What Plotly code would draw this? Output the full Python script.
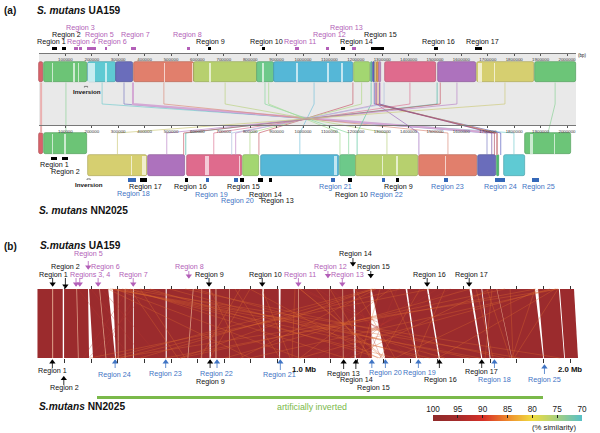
import plotly.graph_objects as go

# ---------- panel (a): genome blocks, all positions in kb ----------
top_start = [0, 19, 186, 292, 360, 587, 826, 890, 1193, 1258, 1266, 1273, 1281, 1289, 1311, 1511, 1659, 1879]
top_end = [15, 182, 292, 356, 587, 826, 890, 1189, 1254, 1262, 1272, 1280, 1287, 1295, 1504, 1655, 1875, 2034]
top_color = ["#d9626a", "#6cc476", "#5fcad3", "#6a6dbb", "#e17f6c", "#b7d06e", "#6dc98a", "#55b7d7", "#a3d671",
             "#5fc8a0", "#5a62c0", "#d6c98a", "#e39a50", "#c48ac8", "#df6b8d", "#ad72bd", "#d6cf70", "#6cc578"]
up_start = [0, 19, 1841]
up_end = [15, 182, 2015]
up_color = ["#d9626a", "#6cc476", "#6cc578"]
low_start = [186, 413, 561, 773, 841, 1140, 1201, 1439, 1663, 1735, 1761]
low_end = [409, 553, 769, 833, 1136, 1201, 1436, 1659, 1731, 1741, 1841]
low_color = ["#d6cf70", "#ad72bd", "#df6b8d", "#a3d671", "#55b7d7", "#6dc98a", "#b7d06e", "#e17f6c", "#6a6dbb", "#4fbf70", "#5fcad3"]

top_stripe_start = [50, 130, 146, 186, 250, 475, 525, 580, 644, 843, 973, 1092, 1144, 1404, 1662, 1725]
top_stripe_end = [53, 138, 150, 212, 258, 479, 528, 584, 652, 851, 980, 1098, 1150, 1407, 1678, 1727]
up_stripe_start = [51, 94, 1860, 1951]
up_stripe_end = [54, 101, 1871, 1956]
low_stripe_start = [349, 390, 629, 759, 1117, 1180, 1300, 1353, 1538]
low_stripe_end = [352, 405, 644, 762, 1129, 1183, 1304, 1360, 1542]

link_top = [8, 102, 239, 322, 356, 473, 705, 856, 870, 1042, 1189, 1222, 1258, 1270, 1278, 1284, 1292, 1307, 1405, 1508, 1520, 1583, 1765, 1955, 1290, 1276]
link_bot = [8, 102, 1799, 1697, 1735, 1549, 1318, 1173, 1140, 988, 833, 799, 1205, 1749, 1439, 1735, 745, 730, 662, 556, 548, 484, 297, 1928, 1715, 1725]
link_color = ["#eab0b0", "#8ed39a", "#78cdd0", "#7f7fc4", "#d4a8d4", "#dd8f80", "#bcd384", "#8ad8a0", "#a8dc90", "#7cc4dc", "#c8606e", "#b2d88a",
              "#5fc8a0", "#5a62c0", "#a070c0", "#e39a50", "#c48ac8", "#b0c0e0", "#dc7a98", "#4fb8a8", "#c8606e", "#bb88c8", "#cfcb80", "#8ed39a", "#7a5aa8", "#b0506a"]

marks_top_black = [(48, 69), (88, 102), (639, 651), (844, 857), (1145, 1159), (1256, 1307), (1495, 1513), (1652, 1679)]
marks_top_magenta = [(133, 148), (153, 162), (182, 215), (249, 259), (348, 366), (561, 571), (970, 984), (1087, 1100), (1185, 1200)]
marks_up_black = [(45, 67), (88, 110)]
marks_low_blue = [(338, 366), (633, 645), (740, 754), (1107, 1121), (1298, 1311), (1535, 1550), (1728, 1765), (1867, 1894)]
marks_low_black = [(383, 410), (552, 566), (763, 777), (831, 850), (870, 884), (1172, 1186), (1351, 1365)]

ruler_ticks = list(range(100, 2001, 100))
ruler_labels = [str(v * 1000) for v in ruler_ticks]

# ---------- panel (b): alignment, positions in kb ----------
band_top = [-2, 2015]
band_bot = [-2, 2030]
gap_t0 = [53, 93, 144, 188, 230, 264, 300, 326, 357, 480, 582, 614, 643, 667, 718, 843, 905, 978, 1094, 1144, 1186, 1250, 1382, 1462, 1622, 1667, 1724, 1868, 1958]
gap_t1 = [57, 98, 147, 192, 233, 282, 303, 329, 360, 484, 585, 617, 648, 671, 721, 849, 912, 981, 1096, 1147, 1191, 1254, 1388, 1468, 1630, 1670, 1726, 1880, 1962]
gap_b0 = [53, 93, 150, 192, 254, 290, 300, 326, 357, 480, 562, 614, 645, 667, 718, 848, 907, 978, 1094, 1146, 1190, 1255, 1421, 1506, 1666, 1698, 1780, 1899, 1978]
gap_b1 = [57, 98, 153, 207, 257, 293, 303, 329, 360, 484, 565, 617, 650, 671, 721, 853, 910, 981, 1096, 1149, 1195, 1305, 1425, 1511, 1670, 1701, 1782, 1902, 1981]
gap_white = [0, 1, 0, 1, 0, 1, 0, 0, 1, 1, 0, 0, 1, 0, 0, 1, 1, 0, 0, 0, 1, 1, 1, 1, 1, 1, 0, 1, 1]

hit_top = [271, 278, 301, 327, 316, 346, 290, 263, 384, 421, 496, 553, 590,
           1955, 1948, 1944, 1925, 1888, 1870, 1756, 1700, 1624, 1474, 1361, 1324, 1271, 1267, 1260, 1256,
           797, 647, 842, 966, 741, 760, 1098, 1192, 985, 1045, 1286, 1324, 1530, 1647, 1707, 1688, 1775, 1955, 1869, 346, 384, 797, 1436, 985]
hit_bot = [1812, 1662, 1474, 1963, 1342, 1154, 985, 797, 1624, 1286, 1436, 1756, 1530,
           290, 797, 1504, 985, 1342, 478, 534, 1173, 703, 195, 308, 985, 760, 384, 534, 271,
           647, 771, 948, 955, 910, 609, 1248, 1342, 1305, 1256, 1211, 1436, 1418, 1711, 1681, 1775, 1786, 1790, 1782, 526, 553, 1278, 1286, 1297]
mesh_top = [1000, 1050, 1100, 1550, 1500, 1450, 980, 1600, 1180, 1350, 200, 380, 150, 340, 240, 420]
mesh_bot = [1500, 1450, 1400, 1050, 1100, 1150, 1600, 1000, 1290, 1240, 400, 230, 350, 170, 460, 190]

arrow_down_black = [55, 103, 643, 843, 1184, 1251, 1463, 1621]
arrow_down_magenta = [143, 157, 189, 226, 358, 567, 979, 1090, 1144]
arrow_up_black = [54, 97, 647, 1149, 1195, 1509, 1668]
arrow_up_blue = [290, 480, 673, 911, 1255, 1306, 1430, 1716, 1904]
inverted_span = [221, 1898]

sim_scale = [100, 95, 90, 85, 80, 75, 70]
sim_steps = list(range(100, 69, -1))
sim_colors = ["#8f2a2a", "#a52b2b", "#d73027", "#ef8b2c", "#efdc40", "#a5cf80", "#55bfc8"]

# ---------- texts ----------
BLACK, MAG, BLUE = "#111111", "#b35fb8", "#3f74c4"
names_a_top = ["Region 3", "Region 2", "Region 5", "Region 7", "Region 8", "Region 1", "Region 4", "Region 6", "Region 9", "Region 10", "Region 11",
               "Region 12", "Region 13", "Region 14", "Region 15", "Region 16", "Region 17"]
names_a_low = ["Region 1", "Region 2", "Region 17", "Region 18", "Region 16", "Region 19", "Region 15", "Region 20", "Region 14", "Region 13",
               "Region 21", "Region 10", "Region 9", "Region 22", "Region 23", "Region 24", "Region 25"]
names_b_top = ["Region 5", "Region 2", "Region 6", "Region 8", "Regions 3, 4", "Region 1", "Region 7", "Region 9", "Region 10", "Region 11",
               "Region 12", "Region 13", "Region 14", "Region 15", "Region 16", "Region 17"]
names_b_low = ["Region 1", "Region 2", "Region 24", "Region 23", "Region 22", "Region 9", "Region 21", "Region 13", "Region 14", "Region 15",
               "Region 20", "Region 19", "Region 16", "Region 17", "Region 18", "Region 25"]

# layout tables (pixel placement of the label text)
xy_a_top = [(80, 27.7, MAG), (66.5, 34, BLACK), (99, 34, MAG), (135, 34, MAG), (187, 34, MAG), (51, 41.3, BLACK), (81, 41.3, MAG), (112.7, 41.3, MAG), (210, 41.3, BLACK),
            (266.7, 41.3, BLACK), (300, 41.3, MAG), (329, 34, MAG), (346, 27.7, MAG), (356, 41.3, BLACK), (380, 34, BLACK), (438, 41.3, BLACK), (482, 41.3, BLACK)]
xy_a_low = [(54.3, 164, BLACK), (65.7, 171.7, BLACK), (145.7, 186.7, BLACK), (133.7, 193.3, BLUE), (190.3, 186.7, BLACK), (211.3, 194, BLUE), (243.7, 186.7, BLACK),
            (237, 200.3, BLUE), (265, 194, BLACK), (277.7, 200.3, BLACK), (335, 186.7, BLUE), (351.7, 194.7, BLACK), (398.7, 186.7, BLACK), (386.3, 194, BLUE),
            (447.7, 186.7, BLUE), (500, 186.7, BLUE), (538.7, 186.7, BLUE)]
xy_b_top = [(88.3, 253.7, MAG), (65.7, 266.3, BLACK), (105.7, 266.3, MAG), (189, 266.3, MAG), (90, 274.3, MAG), (53, 274.3, BLACK), (133.3, 274.3, MAG), (209, 274.3, BLACK),
            (265.7, 274.3, BLACK), (300, 274.3, MAG), (330, 266.3, MAG), (347.3, 274.3, MAG), (355, 253.7, BLACK), (373, 266.3, BLACK), (429.3, 274.3, BLACK), (471.3, 274.3, BLACK)]
xy_b_low = [(52.7, 370.7, BLACK), (64, 387.7, BLACK), (114.7, 374.7, BLUE), (165, 373.7, BLUE), (216.7, 373.3, BLUE), (210, 381.7, BLACK), (279.7, 374.7, BLUE), (343.3, 373.3, BLACK),
            (356, 379.7, BLACK), (373, 387.3, BLACK), (385, 372.7, BLUE), (419.3, 372.7, BLUE), (440.3, 379.3, BLACK), (481.7, 371.7, BLACK), (494.3, 379.3, BLUE), (544.3, 379.3, BLUE)]

FONT = "Liberation Sans"
PS = 0.264   # px per kb, panel a
PB = 0.266   # px per kb, panel b
rng_a = [-39 / PS, (600 - 39) / PS]
rng_b = [-38 / PB, (600 - 38) / PB]
H = 433


def darker(c, f=0.82):
    return "#%02x%02x%02x" % tuple(int(int(c[i:i + 2], 16) * f) for i in (1, 3, 5))


fig = go.Figure()


def blocks(s, e, colors, yc, h, xa="x", radius=2, op=1.0, lw=0.7):
    fig.add_trace(go.Bar(
        orientation="h", base=s, x=[b - a for a, b in zip(s, e)], y=[yc] * len(s), width=[h] * len(s),
        marker=dict(color=colors, cornerradius=radius, opacity=op,
                    line=dict(width=lw, color=[darker(c) for c in colors] if isinstance(colors, list) else colors)),
        xaxis=xa, yaxis="y", showlegend=False, hoverinfo="skip"))


def marks(pairs, color, y0, y1):
    blocks([p[0] for p in pairs], [p[1] for p in pairs], color, (y0 + y1) / 2, y1 - y0, radius=0, lw=0)


# panel a links
for t, b, c in zip(link_top, link_bot, link_color):
    fig.add_trace(go.Scatter(x=[t, t, b, b], y=[82.5, 104, 133, 155 if b not in (8, 102, 1928) else 133], mode="lines",
                             line=dict(color=c, width=2 if t in (8, 356) else 0.7), xaxis="x", yaxis="y",
                             showlegend=False, hoverinfo="skip"))

blocks(top_start, top_end, top_color, 72.2, 20.5)
blocks(top_stripe_start, top_stripe_end, "rgba(255,255,255,0.65)", 72.2, 19, radius=0, lw=0)
blocks(up_start, up_end, up_color, 143.6, 21)
blocks(up_stripe_start, up_stripe_end, "rgba(255,255,255,0.65)", 143.6, 20, radius=0, lw=0)
blocks(low_start, low_end, low_color, 165.4, 20.6)
blocks(low_stripe_start, low_stripe_end, "rgba(255,255,255,0.65)", 165.4, 19.6, radius=0, lw=0)

marks(marks_top_black, "#000000", 46.6, 50)
marks(marks_top_magenta, "#b35fb8", 46.6, 50)
marks(marks_up_black, "#000000", 156.8, 159.8)
marks(marks_low_blue, "#3568b8", 178, 181.6)
marks(marks_low_black, "#000000", 178, 181.6)

# inversion brackets
fig.add_trace(go.Scatter(x=[172, 172, 184, 184, None, 182, 182, 194, 194], y=[87.5, 86.4, 86.4, 87.5, None, 180, 178.9, 178.9, 180],
                         mode="lines", line=dict(color="#333333", width=0.6), xaxis="x", yaxis="y", showlegend=False, hoverinfo="skip"))

# panel b band
Y0, Y1 = 289, 358
fig.add_trace(go.Scatter(x=[band_top[0], band_top[1], band_bot[1], band_bot[0], band_top[0]], y=[Y0, Y0, Y1, Y1, Y0],
                         mode="lines", fill="toself", fillcolor="#9b2b2d", line=dict(width=0), xaxis="x2", yaxis="y",
                         showlegend=False, hoverinfo="skip"))


def gap_poly(idx, color):
    xs, ys = [], []
    for i in idx:
        xs += [gap_t0[i], gap_t1[i], gap_b1[i], gap_b0[i], gap_t0[i], None]
        ys += [Y0, Y0, Y1, Y1, Y0, None]
    fig.add_trace(go.Scatter(x=xs, y=ys, mode="lines", fill="toself", fillcolor=color, line=dict(width=0),
                             xaxis="x2", yaxis="y", showlegend=False, hoverinfo="skip"))


gap_poly([i for i, w in enumerate(gap_white) if w], "#ffffff")
gap_poly([i for i, w in enumerate(gap_white) if not w], "#dc9c86")


def hits(tops, bots, color, w):
    hx, hy = [], []
    for t, b in zip(tops, bots):
        hx += [t, b, None]
        hy += [Y0, Y1, None]
    fig.add_trace(go.Scatter(x=hx, y=hy, mode="lines", line=dict(color=color, width=w),
                             xaxis="x2", yaxis="y", showlegend=False, hoverinfo="skip"))


hits(mesh_top, mesh_bot, "rgba(180,55,48,0.6)", 0.5)
hits(hit_top, hit_bot, "rgba(218,105,48,0.6)", 0.6)


def arrows(xs, y_tail, y_tip, color, symbol):
    lx, ly = [], []
    for x, a, b in zip(xs, y_tail, y_tip):
        lx += [x, x, None]
        ly += [a, b, None]
    fig.add_trace(go.Scatter(x=lx, y=ly, mode="lines", line=dict(color=color, width=0.8), xaxis="x2", yaxis="y",
                             showlegend=False, hoverinfo="skip"))
    fig.add_trace(go.Scatter(x=xs, y=[b + (-2 if symbol.endswith("down") else 2) for b in y_tip], mode="markers",
                             marker=dict(symbol=symbol, size=5.5, color=color, line=dict(width=0)),
                             xaxis="x2", yaxis="y", showlegend=False, hoverinfo="skip"))


arrows(arrow_down_black, [278, 278, 278, 278, 258, 271, 278, 278], [286, 288, 286, 286, 265.7, 277.5, 286, 286], "#000000", "triangle-down")
arrows(arrow_down_magenta, [278, 278, 261, 278, 278, 271, 278, 271, 279], [286, 286, 269, 286, 286, 278, 286, 277.5, 286], "#b35fb8", "triangle-down")
arrows(arrow_up_black, [368, 385, 368, 369, 369, 368, 368], [360, 376.7, 360, 360, 360, 360, 360], "#000000", "triangle-up")
arrows(arrow_up_blue, [368, 368, 368, 370, 368, 368, 368, 368, 374], [360, 360, 360, 360, 360, 360, 360, 360, 365], "#3f74c4", "triangle-up")

# green span bar
blocks([inverted_span[0]], [inverted_span[1]], ["#7ab94a"], 397.3, 2.4, xa="x2", radius=0, lw=0)

# similarity key
fig.add_trace(go.Heatmap(z=[sim_steps], x=sim_steps, y=[0], zmin=70, zmax=100, showscale=False, zsmooth="best",
                         colorscale=[[(s - 70) / 30, c] for s, c in sorted(zip(sim_scale, sim_colors))],
                         xaxis="x7", yaxis="y7", hoverinfo="skip"))
# carriers for ruler axes
for ax in ["x3", "x4", "x5", "x6"]:
    fig.add_trace(go.Scatter(x=[100], y=[0], mode="markers", marker=dict(opacity=0), xaxis=ax, yaxis="y",
                             showlegend=False, hoverinfo="skip"))

ann = []


def txt(s, x, y, color=BLACK, size=7.2, anchor="center"):
    ann.append(dict(text=s, x=x / 600, y=1 - y / H, xref="paper", yref="paper", showarrow=False, xanchor=anchor, yanchor="middle",
                    font=dict(family=FONT, size=size, color=color), align="left", borderpad=0, borderwidth=0))


for names, xy in [(names_a_top, xy_a_top), (names_a_low, xy_a_low), (names_b_top, xy_b_top), (names_b_low, xy_b_low)]:
    for n, (x, y, c) in zip(names, xy):
        txt(n, x, y, c)

txt("<b>(a)</b>", 4, 10, size=10, anchor="left")
txt("<b>(b)</b>", 4, 246.7, size=10, anchor="left")
txt("<b><i>S. mutans</i> UA159</b>", 37, 10, size=10.2, anchor="left")
txt("<b><i>S. mutans</i> NN2025</b>", 39, 210.7, size=10.2, anchor="left")
txt("<b><i>S.mutans</i> UA159</b>", 40, 245.7, size=10.2, anchor="left")
txt("<b><i>S.mutans</i> NN2025</b>", 38.7, 406.7, size=10.2, anchor="left")
txt("<b>Inversion</b>", 86.7, 91.3, size=6.2)
txt("<b>Inversion</b>", 89, 184, size=6.2)
txt("(bp)", 582, 56, size=4.5)
txt("artificially inverted", 312, 407.3, "#7ab94a", size=8.8)
txt("(% similarity)", 553.7, 427.7, "#222222", size=7.7)

ruler = dict(anchor="free", range=[0, 2034], domain=[39 / 600, 576 / 600], tickmode="array", tickvals=ruler_ticks, ticktext=ruler_labels,
             tickfont=dict(family=FONT, size=4.4, color="#333333"), ticks="outside", ticklen=1.5, tickwidth=0.5, tickcolor="#555555",
             showgrid=False, zeroline=False, showline=True, linecolor="#777777", linewidth=1, side="bottom", tickangle=0)
mb_ticks = list(range(100, 2001, 100))
bt = dict(anchor="free", range=[0, 2000], domain=[38 / 600, 570 / 600], tickmode="array", tickvals=mb_ticks,
          showgrid=False, zeroline=False, showline=False, ticks="outside", ticklen=3.5, tickwidth=0.8, tickcolor="#333333", tickangle=0)

fig.update_layout(
    width=600, height=433, autosize=False, margin=dict(l=0, r=0, t=0, b=0, pad=0, autoexpand=False), paper_bgcolor="white", plot_bgcolor="rgba(0,0,0,0)",
    barmode="overlay", bargap=0, annotations=ann, showlegend=False, font=dict(family=FONT),
    xaxis=dict(range=rng_a, domain=[0, 1], visible=False, fixedrange=True),
    xaxis2=dict(range=rng_b, overlaying="x", visible=False, anchor="y"),
    yaxis=dict(range=[H, 0], domain=[0, 1], visible=False),
    xaxis3=dict(ruler, position=1 - 53 / H),
    xaxis4=dict(ruler, position=1 - 125 / H),
    xaxis5=dict(bt, position=1 - 289 / H, side="top", showticklabels=False),
    xaxis6=dict(bt, position=1 - 358 / H, side="bottom", showticklabels=True,
                ticktext=["<b>1.0 Mb</b>" if v == 1000 else "<b>2.0 Mb</b>" if v == 2000 else "" for v in mb_ticks],
                tickfont=dict(family=FONT, size=7.8, color="#111111")),
    xaxis7=dict(range=[100, 70], domain=[433 / 600, 582 / 600], anchor="y7", side="top", tickmode="array", tickvals=sim_scale,
                ticks="inside", ticklen=2.5, tickwidth=0.6, tickcolor="#222222", showgrid=False, zeroline=False,
                tickfont=dict(family=FONT, size=8.2, color="#222222"), tickangle=0),
    yaxis7=dict(domain=[1 - 421 / H, 1 - 415 / H], anchor="x7", visible=False, range=[-0.5, 0.5]),
    shapes=[dict(type="rect", xref="paper", yref="paper", x0=39 / 600, x1=576 / 600, y0=1 - 125 / H, y1=1 - 53 / H,
                 fillcolor="#e9e9e9", line=dict(width=0), layer="below")],
)
fig.write_html("out.html", config=dict(displayModeBar=False),
               post_script="document.documentElement.style.margin='0';document.body.style.margin='0';document.body.style.padding='0';")
